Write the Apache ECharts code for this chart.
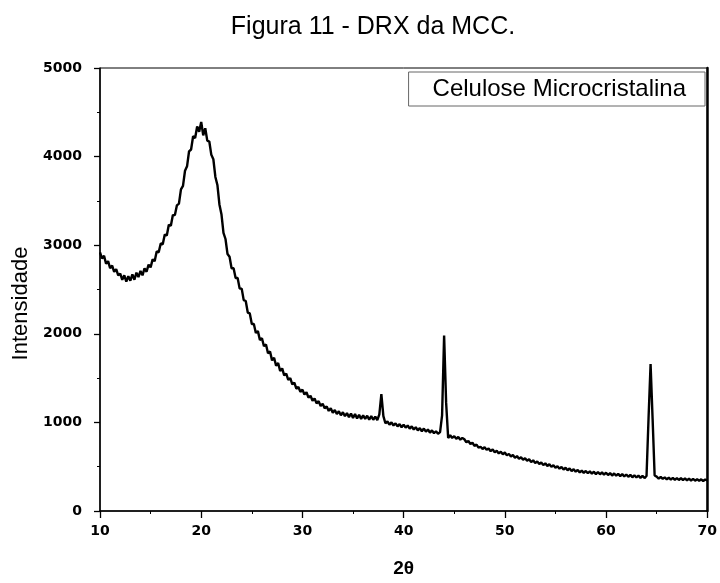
<!DOCTYPE html>
<html>
<head>
<meta charset="utf-8">
<script src="https://cdn.jsdelivr.net/npm/echarts@6/dist/echarts.min.js"></script>
<style>html,body{margin:0;padding:0;background:#fff}#c{width:720px;height:583px}</style>
</head>
<body>
<div id="c"></div>
<script>
const titleText = 'Figura 11 - DRX da MCC.';
const seriesName = 'Celulose Microcristalina';
const xTicks = [10, 20, 30, 40, 50, 60, 70];
const yTicks = [0, 1000, 2000, 3000, 4000, 5000];
// 2θ scan: start and step of the diffractometer sampling
const scanStart = 10.0;
const scanStep = 0.2;
// intensity, one value per 0.2° (10.0 ... 70.0)
const intensity = [
  2920, 2850, 2880, 2790, 2820, 2740, 2770, 2700, 2730, 2660,
  2680, 2610, 2660, 2590, 2650, 2600, 2670, 2610, 2690, 2640,
  2710, 2660, 2740, 2700, 2780, 2750, 2840, 2820, 2930, 2920,
  3020, 3010, 3120, 3110, 3230, 3220, 3340, 3340, 3450, 3470,
  3630, 3670, 3840, 3890, 4060, 4080, 4230, 4210, 4340, 4280,
  4390, 4240, 4320, 4180, 4170, 4020, 3970, 3770, 3680, 3460,
  3350, 3140, 3070, 2900, 2870, 2740, 2740, 2630, 2630, 2510,
  2510, 2380, 2370, 2240, 2230, 2110, 2110, 2010, 2030, 1930,
  1950, 1860, 1880, 1780, 1800, 1700, 1730, 1640, 1670, 1580,
  1610, 1530, 1550, 1480, 1500, 1430, 1450, 1380, 1400, 1345,
  1370, 1315, 1340, 1280, 1300, 1245, 1270, 1215, 1240, 1185,
  1210, 1160, 1180, 1130, 1160, 1110, 1140, 1095, 1125, 1080,
  1115, 1070, 1105, 1060, 1100, 1050, 1095, 1045, 1085, 1040,
  1080, 1040, 1075, 1030, 1070, 1030, 1065, 1025, 1090, 1320,
  1070,  990, 1010,  975, 1000,  965,  990,  955,  980,  945,
   975,  940,  965,  930,  955,  920,  945,  910,  935,  900,
   930,  895,  920,  885,  910,  878,  900,  872,  890, 1080,
  1980, 1220,  825,  855,  825,  845,  815,  835,  805,  825,
   810,  775,  790,  755,  770,  735,  750,  715,  725,  700,
   720,  690,  705,  675,  695,  662,  680,  650,  668,  640,
   660,  628,  645,  615,  632,  600,  620,  588,  606,  578,
   596,  568,  584,  552,  572,  540,  560,  530,  548,  518,
   538,  508,  528,  498,  516,  488,  506,  478,  496,  468,
   488,  460,  480,  450,  472,  444,  464,  436,  456,  430,
   452,  426,  448,  420,  444,  416,  440,  414,  436,  410,
   432,  406,  428,  400,  424,  398,  420,  394,  416,  390,
   412,  386,  408,  380,  404,  378,  400,  374,  396,  372,
   395, 1050, 1660, 1040,  400,  388,  366,  384,  362,  380,
   358,  376,  354,  374,  352,  372,  350,  370,  348,  368,
   346,  366,  344,  362,  342,  360,  340,  358,  338,  356,
   345
];

const data = intensity.map((v, i) => [+(scanStart + i * scanStep).toFixed(1), v]);

const chart = echarts.init(document.getElementById('c'), null, {renderer: 'canvas'});
const labelFont = {color: '#000', fontFamily: 'DejaVu Sans', fontWeight: 'bold', fontSize: 14};
const yMin = yTicks[0], yMax = yTicks[yTicks.length - 1];
chart.setOption({
  animation: false,
  backgroundColor: '#fff',
  title: {
    text: titleText,
    left: 368, top: 10, textAlign: 'center',
    textStyle: {fontFamily: 'Liberation Sans', fontWeight: 'normal', fontSize: 25, color: '#000'}
  },
  legend: {
    data: [{name: seriesName, icon: 'none'}],
    right: 15, top: 72,
    itemWidth: 0, itemHeight: 0, itemGap: 0,
    padding: [5, 19, 5, 19],
    borderColor: '#666', borderWidth: 1,
    textStyle: {fontFamily: 'Liberation Sans', fontSize: 24, color: '#000'}
  },
  grid: {left: 100, right: 9, top: 68, bottom: 66, show: true, borderColor: '#000', borderWidth: 1},
  xAxis: {
    type: 'value', min: xTicks[0], max: xTicks[xTicks.length - 1], interval: 10,
    name: '2θ', nameLocation: 'middle', nameGap: 48,
    nameTextStyle: {fontFamily: 'Liberation Sans', fontWeight: 'bold', fontSize: 19, color: '#000'},
    axisLine: {lineStyle: {color: '#000', width: 1.5}},
    axisTick: {length: 7, lineStyle: {color: '#000', width: 1.3}},
    minorTick: {show: true, splitNumber: 2, length: 3, lineStyle: {color: '#000'}},
    splitLine: {show: false},
    axisLabel: Object.assign({margin: 13}, labelFont)
  },
  yAxis: [{
    type: 'value', min: yMin, max: yMax, interval: 1000,
    name: 'Intensidade', nameLocation: 'middle', nameGap: 67,
    nameTextStyle: {fontFamily: 'Liberation Sans', fontSize: 22, color: '#000', padding: [0, 28, 0, 0]},
    axisLine: {lineStyle: {color: '#000', width: 1.5}},
    axisTick: {length: 6, lineStyle: {color: '#000', width: 1.3}},
    minorTick: {show: true, splitNumber: 2, length: 3, lineStyle: {color: '#000'}},
    splitLine: {show: false},
    axisLabel: Object.assign({margin: 18, formatter: v => String(v)}, labelFont)
  }, {
    type: 'value', min: yMin, max: yMax, position: 'right',
    axisLine: {show: true, lineStyle: {color: '#000', width: 2.5}},
    axisTick: {show: false}, axisLabel: {show: false}, splitLine: {show: false}
  }],
  series: [{
    name: seriesName, type: 'line', data: data,
    showSymbol: false, symbol: 'none',
    lineStyle: {color: '#000', width: 2.4},
    itemStyle: {color: '#000'}
  }]
});
</script>
</body>
</html>
